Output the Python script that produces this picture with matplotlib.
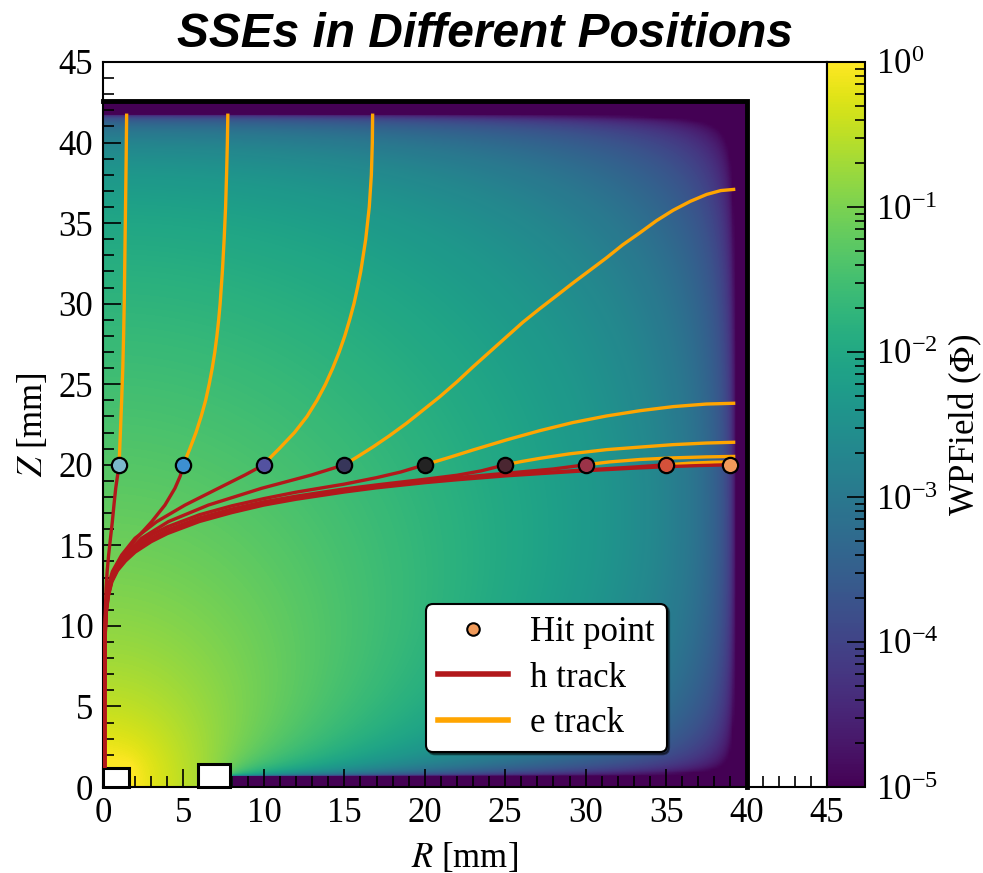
import numpy as np
import matplotlib
matplotlib.use("Agg")
import matplotlib.pyplot as plt
from matplotlib.colors import LogNorm
from matplotlib.patches import Rectangle
from matplotlib.lines import Line2D
from matplotlib.ticker import MultipleLocator

plt.rcParams["font.family"] = ["Liberation Serif", "DejaVu Serif"]
plt.rcParams["mathtext.fontset"] = "stix"
plt.rcParams["font.size"] = 25

# ---------------- detector geometry (mm) ----------------
R_CRYSTAL = 40.0          # outer radius of the crystal
Z_CRYSTAL = 42.6          # crystal height
R_GROUND = 39.3           # inner edge of the side n+ layer
Z_GROUND = 41.8           # inner edge of the top n+ layer
Z_BOTTOM_GROUND = 0.6     # thickness of the bottom n+ layer
CONTACT_R, CONTACT_Z = 1.6, 1.2          # point contact
GROOVE_R0, GROOVE_R1, GROOVE_Z = 5.9, 7.9, 1.45   # groove around the contact
# tone curve of the colour scale: log-space lift of the mid range
TONE_LIFT = 0.42
TONE_CENTER = -2.2
TONE_WIDTH = 1.5

# ---------------- hit points ----------------
hit_r = [1, 5, 10, 15, 20, 25, 30, 35, 39]
hit_z = [20, 20, 20, 20, 20, 20, 20, 20, 20]
hit_colors = ["#7bb8cc", "#3d8fd0", "#5352a0", "#37365a", "#232323",
              "#4a2631", "#9b3348", "#d4513a", "#f09a5a"]

# ---------------- hole tracks (R, Z) ----------------
h_track_1 = [(1.0, 20.0), (0.9, 19.3), (0.79, 18.54), (0.68, 17.5), (0.58, 16.47),
             (0.46, 15.4), (0.35, 14.4), (0.26, 13.4), (0.19, 12.33), (0.15, 11.0),
             (0.12, 9.0), (0.1, 6.0), (0.1, 3.0), (0.1, 1.2)]
h_track_2 = [(5.0, 20.0), (4.8, 19.3), (4.47, 18.54), (3.85, 17.5), (3.03, 16.47),
             (2.09, 15.44), (1.26, 14.4), (0.64, 13.37), (0.33, 12.33), (0.18, 11.3),
             (0.13, 9.5), (0.1, 6.0), (0.1, 3.0), (0.1, 1.2)]
h_track_3 = [(10.0, 20.0), (8.83, 19.37), (7.17, 18.54), (5.10, 17.5), (3.34, 16.47),
             (1.99, 15.44), (1.16, 14.4), (0.58, 13.37), (0.29, 12.33), (0.17, 11.2),
             (0.12, 9.5), (0.1, 6.0), (0.1, 3.0), (0.1, 1.2)]
h_track_4 = [(15.0, 20.0), (12.97, 19.37), (9.86, 18.54), (6.55, 17.5), (4.06, 16.47),
             (2.40, 15.44), (1.37, 14.4), (0.67, 13.37), (0.33, 12.33), (0.18, 11.2),
             (0.12, 9.5), (0.1, 6.0), (0.1, 3.0), (0.1, 1.2)]
h_track_5 = [(20.0, 20.0), (18.5, 19.55), (17.0, 19.2), (15.0, 18.8), (12.0, 18.3),
             (10.0, 17.9), (8.0, 17.45), (6.0, 16.9), (4.0, 16.15), (3.0, 15.65),
             (2.0, 14.95), (1.4, 14.4), (0.9, 13.8), (0.55, 13.05), (0.33, 12.15),
             (0.2, 11.1), (0.13, 9.6), (0.1, 6.0), (0.1, 3.0), (0.1, 1.2)]
h_track_6 = [(25.0, 20.0), (23.5, 19.62), (22.0, 19.35), (20.0, 19.1), (17.0, 18.75),
             (15.0, 18.5), (12.0, 18.05), (10.0, 17.7), (8.0, 17.25), (6.0, 16.7),
             (4.0, 15.95), (3.0, 15.45), (2.0, 14.8), (1.4, 14.25), (0.9, 13.65),
             (0.55, 12.95), (0.33, 12.05), (0.2, 11.0), (0.13, 9.5), (0.1, 6.0),
             (0.1, 3.0), (0.1, 1.2)]
h_track_7 = [(30.0, 20.0), (28.0, 19.74), (25.0, 19.47), (22.0, 19.2), (20.0, 19.0),
             (17.0, 18.68), (15.0, 18.43), (12.0, 17.98), (10.0, 17.63), (8.0, 17.18),
             (6.0, 16.62), (4.0, 15.88), (3.0, 15.38), (2.0, 14.72), (1.4, 14.18),
             (0.9, 13.58), (0.55, 12.88), (0.33, 11.98), (0.2, 10.93), (0.13, 9.4),
             (0.1, 6.0), (0.1, 3.0), (0.1, 1.2)]
h_track_8 = [(35.0, 20.0), (33.0, 19.86), (30.0, 19.68), (27.0, 19.49), (25.0, 19.37),
             (22.0, 19.12), (20.0, 18.94), (17.0, 18.62), (15.0, 18.37), (12.0, 17.92),
             (10.0, 17.56), (8.0, 17.1), (6.0, 16.55), (4.0, 15.8), (3.0, 15.3),
             (2.0, 14.65), (1.4, 14.1), (0.9, 13.5), (0.55, 12.8), (0.33, 11.9),
             (0.2, 10.85), (0.13, 9.3), (0.1, 6.0), (0.1, 3.0), (0.1, 1.2)]
h_track_9 = [(39.0, 20.0), (37.0, 19.95), (35.0, 19.88), (33.0, 19.79), (30.0, 19.63),
             (27.0, 19.44), (25.0, 19.31), (22.0, 19.07), (20.0, 18.89), (17.0, 18.57),
             (15.0, 18.31), (12.0, 17.86), (10.0, 17.5), (8.0, 17.03), (6.0, 16.48),
             (4.0, 15.73), (3.0, 15.23), (2.0, 14.58), (1.4, 14.03), (0.9, 13.43),
             (0.55, 12.73), (0.33, 11.83), (0.2, 10.78), (0.13, 9.2), (0.1, 6.0),
             (0.1, 3.0), (0.1, 1.2)]

# ---------------- electron tracks (R, Z) ----------------
e_track_1 = [(1.0, 20.0), (1.08, 22.0), (1.16, 24.0), (1.23, 26.0), (1.28, 28.0),
             (1.32, 30.0), (1.36, 33.0), (1.40, 36.0), (1.44, 39.0), (1.47, 41.8)]
e_track_2 = [(5.0, 20.0), (5.2, 20.5), (5.4, 21.0), (5.78, 22.0), (6.1, 23.0),
             (6.38, 24.0), (6.6, 25.0), (6.79, 26.0), (6.95, 27.0), (7.08, 28.0),
             (7.19, 29.0), (7.28, 30.0), (7.42, 32.0), (7.53, 34.0), (7.62, 36.0),
             (7.68, 38.0), (7.73, 40.0), (7.76, 41.8)]
e_track_3 = [(10.0, 20.0), (10.45, 20.5), (10.95, 21.0), (11.9, 22.0), (12.68, 23.0),
             (13.3, 24.0), (13.83, 25.0), (14.28, 26.0), (14.68, 27.0), (15.03, 28.0),
             (15.33, 29.0), (15.6, 30.0), (15.82, 31.0), (16.02, 32.0), (16.33, 34.0),
             (16.55, 36.0), (16.68, 38.0), (16.74, 40.0), (16.76, 41.8)]
e_track_4 = [(15.0, 20.0), (15.9, 20.55), (16.8, 21.12), (17.8, 21.8), (18.87, 22.58),
             (19.9, 23.4), (20.94, 24.23), (22.0, 25.15), (23.01, 26.09), (24.05, 27.02),
             (25.09, 27.95), (26.1, 28.85), (27.16, 29.7), (28.2, 30.5), (29.23, 31.3),
             (30.3, 32.1), (31.3, 32.85), (32.3, 33.65), (33.37, 34.4), (34.4, 35.15),
             (35.44, 35.8), (36.5, 36.35), (37.52, 36.78), (38.4, 37.02), (39.3, 37.1)]
e_track_5 = [(20.0, 20.0), (21.5, 20.45), (23.0, 20.92), (25.1, 21.55), (27.16, 22.12),
             (29.2, 22.62), (31.3, 23.03), (33.4, 23.36), (35.44, 23.61), (37.5, 23.77),
             (39.3, 23.82)]
e_track_6 = [(25.0, 20.0), (26.0, 20.2), (27.16, 20.4), (29.0, 20.68), (31.3, 20.94),
             (33.4, 21.1), (35.44, 21.25), (37.5, 21.35), (39.3, 21.4)]
e_track_7 = [(30.0, 20.0), (31.5, 20.18), (33.4, 20.33), (35.44, 20.43), (37.5, 20.49),
             (39.3, 20.52)]
e_track_8 = [(35.0, 20.0), (36.5, 20.1), (38.0, 20.16), (39.3, 20.18)]
e_track_9 = [(39.0, 20.0), (39.3, 20.01)]

h_tracks = [h_track_1, h_track_2, h_track_3, h_track_4, h_track_5,
            h_track_6, h_track_7, h_track_8, h_track_9]
e_tracks = [e_track_1, e_track_2, e_track_3, e_track_4, e_track_5,
            e_track_6, e_track_7, e_track_8, e_track_9]

H_COLOR = "#b2181b"
E_COLOR = "#ffa500"


def weighting_potential(h=0.2, n_iter=3500, omega=1.97):
    """Solve the axisymmetric Laplace equation for the point-contact
    weighting potential with red-black SOR."""
    r = np.arange(0.0, R_CRYSTAL + h / 2, h)
    z = np.arange(0.0, Z_CRYSTAL + h / 2, h)
    RR, ZZ = np.meshgrid(r, z)
    tol = 1e-9
    contact = (RR <= CONTACT_R + tol) & (ZZ <= CONTACT_Z + tol)
    grounded = ((RR >= R_GROUND - tol) | (ZZ >= Z_GROUND - tol)
                | ((RR >= GROOVE_R1) & (ZZ <= Z_BOTTOM_GROUND + tol)))
    fixed = contact | grounded
    phi = np.where(contact, 1.0, 0.0)

    cE = np.full_like(RR, 0.25)
    cW = np.full_like(RR, 0.25)
    cN = np.full_like(RR, 0.25)
    cS = np.full_like(RR, 0.25)
    cE[:, 1:] = 0.25 * (1 + h / (2 * RR[:, 1:]))
    cW[:, 1:] = 0.25 * (1 - h / (2 * RR[:, 1:]))
    # symmetry axis r = 0
    cE[:, 0] = 4.0 / 6.0
    cW[:, 0] = 0.0
    cN[:, 0] = 1.0 / 6.0
    cS[:, 0] = 1.0 / 6.0

    parity = np.add.outer(np.arange(len(z)), np.arange(len(r))) % 2
    masks = [(~fixed) & (parity == k) for k in (0, 1)]
    for _ in range(n_iter):
        for m in masks:
            P = np.pad(phi, 1, mode="reflect")   # mirror: Neumann at z=0 and r=0
            gs = (cE * P[1:-1, 2:] + cW * P[1:-1, :-2]
                  + cN * P[2:, 1:-1] + cS * P[:-2, 1:-1])
            phi = np.where(m, phi + omega * (gs - phi), phi)
    return r, z, phi


r_grid, z_grid, wp = weighting_potential()
log_wp = np.log10(np.clip(wp, 1e-12, 1.0))
log_shown = log_wp + TONE_LIFT * np.exp(-((log_wp - TONE_CENTER) / TONE_WIDTH) ** 2)
wp_shown = np.clip(10.0 ** log_shown, 1e-5, 1.0)

fig = plt.figure(figsize=(9.83, 8.73), dpi=100)
ax = fig.add_axes([103 / 983, 1 - 787 / 873, 724 / 983, 725 / 873])
cax = fig.add_axes([827 / 983, 1 - 787 / 873, 38 / 983, 725 / 873])

norm = LogNorm(vmin=1e-5, vmax=1.0)
im = ax.imshow(wp_shown, origin="lower", cmap="viridis", norm=norm,
               extent=[0, R_CRYSTAL, 0, Z_CRYSTAL], interpolation="bilinear",
               aspect="auto", zorder=0)

# crystal outline (top and side)
ax.plot([0, R_CRYSTAL, R_CRYSTAL], [Z_CRYSTAL, Z_CRYSTAL, 0], color="k", lw=3.5,
        solid_joinstyle="miter", zorder=4, clip_on=False)
# point contact and groove
ax.add_patch(Rectangle((0, 0), CONTACT_R, CONTACT_Z, facecolor="white",
                       edgecolor="k", lw=2.2, zorder=4, clip_on=False))
ax.add_patch(Rectangle((GROOVE_R0, 0), GROOVE_R1 - GROOVE_R0, GROOVE_Z,
                       facecolor="white", edgecolor="k", lw=2.2, zorder=4, clip_on=False))

for i in range(len(hit_r)):
    hr, hz = zip(*h_tracks[i])
    ax.plot(hr, hz, color=H_COLOR, lw=2.4, solid_capstyle="butt",
            solid_joinstyle="round", zorder=5)
    er, ez = zip(*e_tracks[i])
    ax.plot(er, ez, color=E_COLOR, lw=2.4, solid_capstyle="butt",
            solid_joinstyle="round", zorder=5)

for i in range(len(hit_r)):
    ax.plot(hit_r[i], hit_z[i], ls="none", marker="o", ms=11, mfc=hit_colors[i],
            mec="k", mew=1.6, zorder=6)

ax.set_xlim(0, 45)
ax.set_ylim(0, 45)
ax.xaxis.set_major_locator(MultipleLocator(5))
ax.xaxis.set_minor_locator(MultipleLocator(1))
ax.yaxis.set_major_locator(MultipleLocator(5))
ax.yaxis.set_minor_locator(MultipleLocator(1))
ax.tick_params(which="both", direction="in", top=False, right=False,
               labelsize=25, width=1.2, pad=7)
ax.tick_params(which="major", length=13)
ax.tick_params(which="minor", length=8)
for sp in ax.spines.values():
    sp.set_linewidth(1.5)

ax.set_xlabel("$R$ [mm]", fontsize=25, labelpad=8)
ax.set_ylabel("$Z$ [mm]", fontsize=25, labelpad=6)

handles = [
    Line2D([], [], ls="none", marker="o", ms=9, mfc=hit_colors[-1], mec="k", mew=1.5),
    Line2D([], [], color=H_COLOR, lw=4),
    Line2D([], [], color=E_COLOR, lw=4),
]
leg = ax.legend(handles, ["Hit point", "h track", "e track"], loc="lower right",
                bbox_to_anchor=(0.779, 0.048), borderaxespad=0, fontsize=25,
                frameon=True, fancybox=True, framealpha=1, edgecolor="k",
                handlelength=2.0, handletextpad=0.65, labelspacing=0.36,
                borderpad=0.35,
                shadow={"ox": 1.5, "oy": -1.5, "color": "k", "alpha": 0.45})
leg.get_frame().set_linewidth(1.5)
leg.set_zorder(7)

cb = fig.colorbar(im, cax=cax)
cb.outline.set_linewidth(1.5)
cax.tick_params(which="both", direction="in", left=False, right=True,
                labelsize=25, width=1.2, pad=8)
cax.tick_params(which="major", length=13)
cax.tick_params(which="minor", length=7)
cb.set_label(r"WPField ($\Phi$)", fontsize=25, labelpad=6)

fig.text(0.493, 1 - 47 / 873, "SSEs in Different Positions", ha="center",
         va="baseline", fontsize=34.5, fontweight="bold", fontstyle="italic",
         family=["Liberation Sans", "DejaVu Sans"])

fig.savefig("out.png", dpi=100)
